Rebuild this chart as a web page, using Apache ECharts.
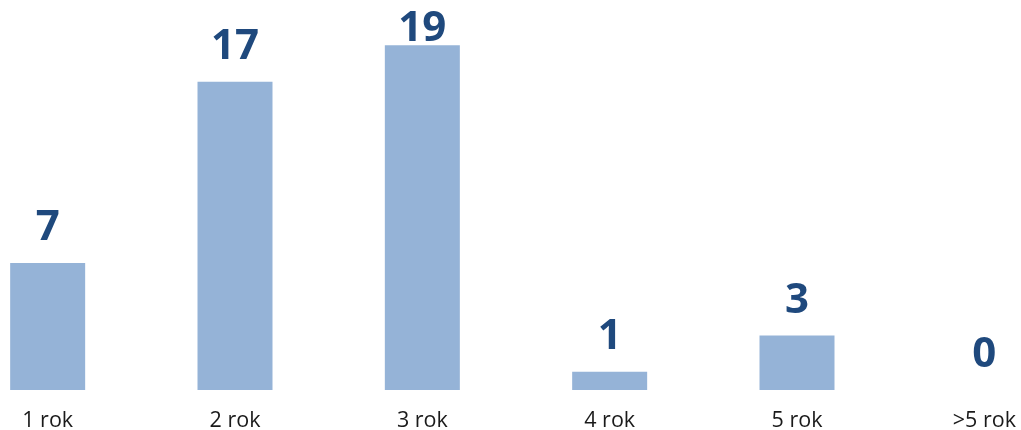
<!DOCTYPE html>
<html>
<head>
<meta charset="utf-8">
<script src="https://cdn.jsdelivr.net/npm/echarts@6/dist/echarts.min.js"></script>
<style>html,body{margin:0;padding:0;background:#fff}#c{width:1021px;height:430px}</style>
</head>
<body>
<div id="c"></div>
<script>
const categories = ['1 rok', '2 rok', '3 rok', '4 rok', '5 rok', '>5 rok'];
const values = [7, 17, 19, 1, 3, 0];

const chart = echarts.init(document.getElementById('c'));
chart.setOption({
  animation: false,
  grid: { left: -46, width: 1124, top: 0, height: 390, containLabel: false, outerBoundsMode: 'none' },
  xAxis: {
    type: 'category',
    data: categories,
    axisLine: { show: false },
    axisTick: { show: false },
    axisLabel: { color: '#1a1a1a', fontSize: 21.5, fontFamily: 'Open Sans', margin: 20 }
  },
  yAxis: { type: 'value', min: 0, max: 21.5, show: false, splitLine: { show: false } },
  series: [{
    type: 'bar',
    data: values,
    barWidth: 75,
    itemStyle: { color: '#95B3D7' },
    label: {
      show: true,
      position: 'top',
      distance: 14,
      color: '#1F497D',
      fontSize: 42,
      fontWeight: 'bold',
      fontFamily: 'Open Sans'
    },
    labelLayout: function (params) {
      const minTop = 8;
      const r = params.labelRect;
      return r.y < minTop ? { dy: minTop - r.y } : {};
    }
  }]
});
</script>
</body>
</html>
